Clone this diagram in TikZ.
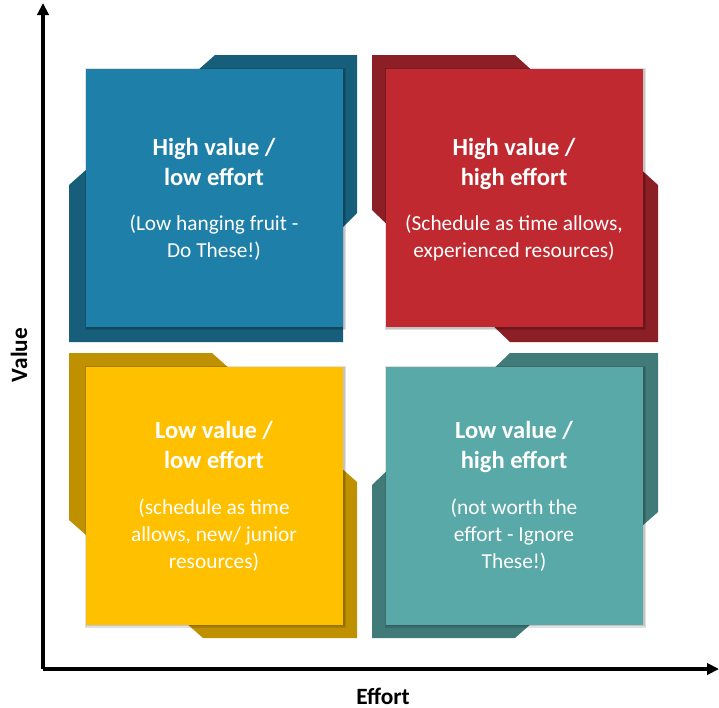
\documentclass[tikz,border=0pt]{standalone}
\usepackage{fontspec}
\setmainfont{Carlito}
\usetikzlibrary{arrows.meta}
\definecolor{blueL}{HTML}{1E80A8}
\definecolor{blueD}{HTML}{165E79}
\definecolor{redL}{HTML}{C0292F}
\definecolor{redD}{HTML}{8C1E25}
\definecolor{yelL}{HTML}{FFC000}
\definecolor{yelD}{HTML}{BF9000}
\definecolor{tealL}{HTML}{59A9A8}
\definecolor{tealD}{HTML}{407A79}
\tikzset{
  sq/.style={minimum width=192.75pt, minimum height=193.5pt, inner sep=0pt, draw=none},
  ttl/.style={text=white, align=center, anchor=north, inner sep=0pt,
    font=\fontsize{18.4}{22.5}\selectfont\bfseries},
  sub/.style={text=white, align=center, anchor=north, inner sep=0pt,
    font=\fontsize{16}{20.2}\selectfont},
  axislbl/.style={inner sep=0pt, font=\fontsize{17.5}{20}\selectfont\bfseries},
  axis/.style={line width=2.4pt, -{Triangle[length=9pt,width=8.5pt]}},
  shade/.style={fill=black, opacity=0.12}
}
\begin{document}
\begin{tikzpicture}[x=0.75pt,y=-0.75pt]
\useasboundingbox (0,0) rectangle (719,708);
\fill[white] (0,0) rectangle (719,708);
% dark back shapes
\fill[blueD] (69,185) -- (215,55) -- (357,55) -- (357,213) -- (343,227) -- (343,342) -- (69,342) -- cycle;
\fill[redD] (372,55) -- (515,55) -- (658,185) -- (658,342) -- (510,342) -- (372,210) -- cycle;
\fill[yelD] (69,353) -- (212,353) -- (357,482) -- (357,638) -- (203,638) -- (69,520) -- cycle;
\fill[tealD] (372,485) -- (510,353) -- (658,353) -- (658,512) -- (515,638) -- (372,638) -- cycle;
% soft shadows
\foreach \cx/\cy in {214.5/198, 514.5/198, 214.5/495.5, 514.5/495.5}{
  \fill[shade] (\cx-128.5-1,\cy-129-1) rectangle (\cx+128.5+3,\cy+129+3);
  \fill[shade] (\cx-128.5,\cy-129) rectangle (\cx+128.5+1.5,\cy+129+1.5);
}
% light squares
\node[sq, fill=blueL] (q1) at (214.5,198) {};
\node[sq, fill=redL] (q2) at (514.5,198) {};
\node[sq, fill=yelL] (q3) at (214.5,495.5) {};
\node[sq, fill=tealL] (q4) at (514.5,495.5) {};
% texts
\node[ttl] (t1) at (214,138) {High value /\\low effort};
\node[sub] (s1) at (214,215) {(Low hanging fruit -\\Do These!)};
\node[ttl] (t2) at (514,138) {High value /\\high effort};
\node[sub] (s2) at (514,215) {(Schedule as time allows,\\experienced resources)};
\node[ttl] (t3) at (214,421) {Low value /\\low effort};
\node[sub] (s3) at (214,499) {(schedule as time\\allows, new/ junior\\resources)};
\node[ttl] (t4) at (514,421) {Low value /\\high effort};
\node[sub] (s4) at (514,499) {(not worth the\\effort - Ignore\\These!)};
% axes
\coordinate (O) at (43,669);
\coordinate (ytop) at (43,3);
\coordinate (xend) at (719,669);
\draw[axis] (O) -- (ytop);
\draw[axis] (O) -- (xend);
\node[axislbl, rotate=90] (vl) at (19,355) {Value};
\node[axislbl] (el) at (383,696) {Effort};
\end{tikzpicture}
\end{document}
